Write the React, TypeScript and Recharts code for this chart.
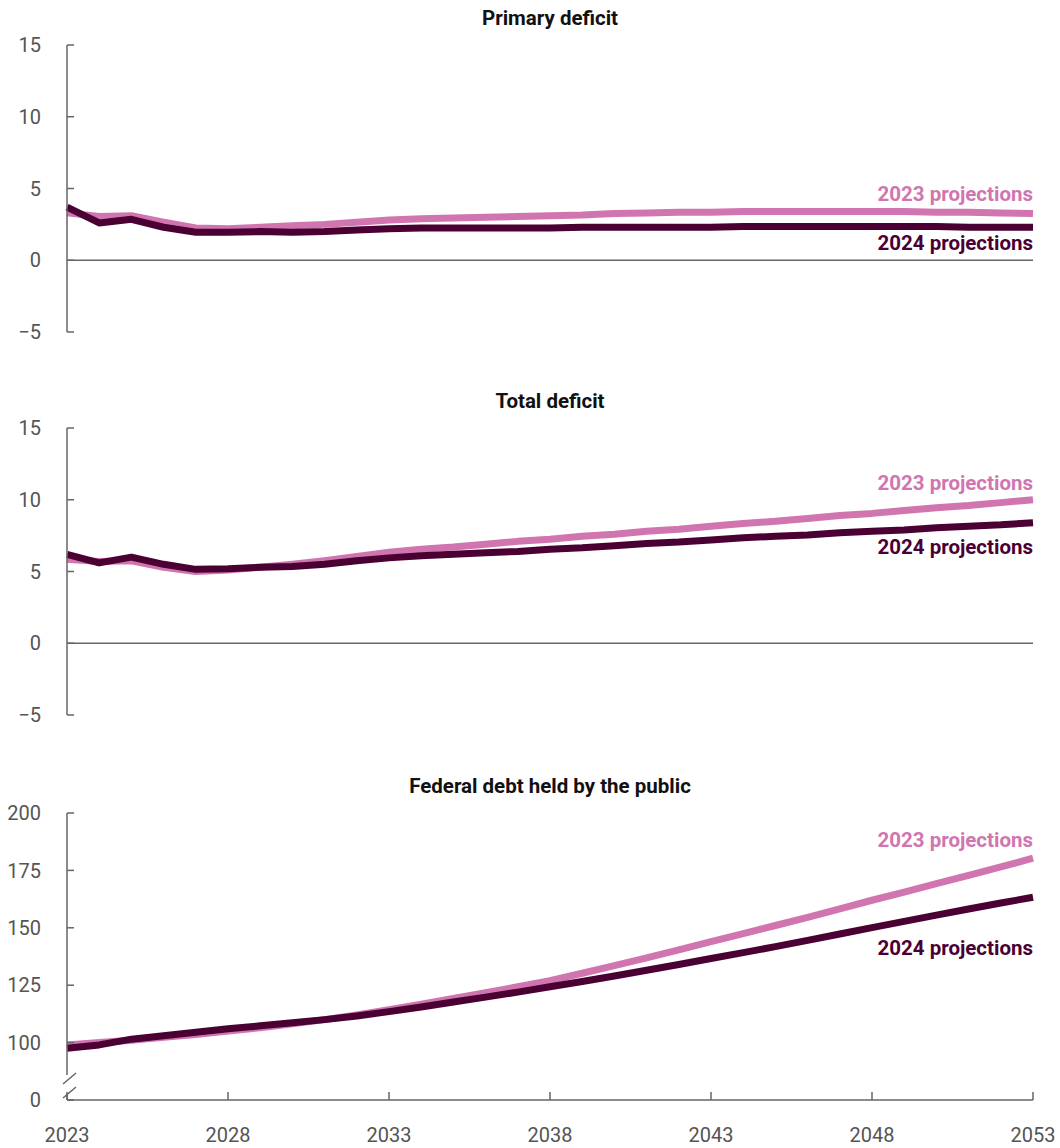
import React from "react";
import { LineChart, Line, XAxis, YAxis, ReferenceLine, LabelList } from "recharts";

const years = [
  2023, 2024, 2025, 2026, 2027, 2028, 2029, 2030, 2031, 2032, 2033,
  2034, 2035, 2036, 2037, 2038, 2039, 2040, 2041, 2042, 2043,
  2044, 2045, 2046, 2047, 2048, 2049, 2050, 2051, 2052, 2053,
];
const xTicks = [2023, 2028, 2033, 2038, 2043, 2048, 2053];

// percent of GDP
const primary2023 = [
  3.3, 3.05, 3.1, 2.65, 2.25, 2.2, 2.3, 2.4, 2.5, 2.65, 2.8,
  2.9, 2.95, 3.0, 3.05, 3.1, 3.15, 3.25, 3.3, 3.35, 3.35,
  3.4, 3.4, 3.4, 3.4, 3.4, 3.4, 3.35, 3.35, 3.3, 3.25,
];
const primary2024 = [
  3.7, 2.6, 2.85, 2.3, 1.95, 1.95, 2.0, 1.95, 2.0, 2.1, 2.2,
  2.25, 2.25, 2.25, 2.25, 2.25, 2.3, 2.3, 2.3, 2.3, 2.3,
  2.35, 2.35, 2.35, 2.35, 2.35, 2.35, 2.35, 2.3, 2.3, 2.3,
];
const total2023 = [
  5.85, 5.7, 5.75, 5.3, 5.0, 5.1, 5.3, 5.5, 5.75, 6.05, 6.35,
  6.55, 6.7, 6.9, 7.1, 7.25, 7.45, 7.6, 7.8, 7.95, 8.15,
  8.35, 8.5, 8.7, 8.9, 9.05, 9.25, 9.45, 9.6, 9.8, 10.0,
];
const total2024 = [
  6.2, 5.6, 6.0, 5.5, 5.15, 5.2, 5.3, 5.35, 5.5, 5.75, 5.95,
  6.1, 6.2, 6.3, 6.4, 6.55, 6.65, 6.8, 6.95, 7.05, 7.2,
  7.35, 7.45, 7.55, 7.7, 7.8, 7.9, 8.05, 8.15, 8.25, 8.4,
];
const debt2023 = [
  99, 100, 101, 102.3, 103.5, 105, 106.5, 108.2, 110, 112, 114.3,
  116.7, 119.2, 121.7, 124.3, 127, 130.2, 133.5, 136.9, 140.4, 144,
  147.5, 151, 154.5, 158.2, 162, 165.5, 169.2, 172.8, 176.5, 180.3,
];
const debt2024 = [
  97.5, 99, 101.5, 103, 104.5, 106, 107.3, 108.6, 110, 111.6, 113.5,
  115.5, 117.7, 119.8, 122, 124.3, 126.6, 129, 131.5, 134, 136.6,
  139.2, 141.8, 144.5, 147.3, 150.1, 152.8, 155.5, 158.2, 160.8, 163.3,
];

const PINK = "#d175b0";
const PLUM = "#4a0033";
const AXIS = "#666666";
const TICK = "#555555";
const FONT = "Roboto, 'Noto Sans', sans-serif";

const build = (a: number[], b: number[]) =>
  years.map((year, i) => ({ year, p2023: a[i], p2024: b[i] }));

const fmtSigned = (v: number) => (v < 0 ? `\u2212${Math.abs(v)}` : String(v));
const fmtDebt = (v: number) => (v === 75 ? "0" : String(v));

function endLabel(text: string, color: string, dy: number, last: number) {
  return (props: any) => {
    if (props.index !== last) return null;
    return (
      <text
        x={Number(props.x)}
        y={Number(props.y) + dy}
        textAnchor="end"
        dominantBaseline="central"
        fill={color}
        fontSize={20.5}
        fontWeight={700}
        fontFamily={FONT}
      >
        {text}
      </text>
    );
  };
}

interface PanelProps {
  top: number;
  height: number;
  title: string;
  data: { year: number; p2023: number; p2024: number }[];
  domain: [number, number];
  ticks: number[];
  fmt: (v: number) => string;
  showX?: boolean;
  offsets: [number, number];
  brokenAxis?: boolean;
}

function Panel({ top, height, title, data, domain, ticks, fmt, showX, offsets, brokenAxis }: PanelProps) {
  const last = data.length - 1;
  return (
    <div style={{ position: "absolute", left: 0, top, width: 1060, height }}>
      <div
        style={{
          position: "absolute",
          left: 67,
          width: 966,
          top: 6,
          lineHeight: "24px",
          textAlign: "center",
          fontWeight: 700,
          fontSize: 20.5,
          color: "#111",
        }}
      >
        {title}
      </div>
      <LineChart
        width={1060}
        height={height}
        data={data}
        margin={{ top: 45, right: 27, left: 0, bottom: showX ? 0 : 28 }}
      >
        <XAxis
          dataKey="year"
          type="number"
          domain={[2023, 2053]}
          ticks={xTicks}
          hide={!showX}
          height={48}
          tickSize={-8}
          tickMargin={36}
          axisLine={{ stroke: AXIS, strokeWidth: 1.5 }}
          tickLine={{ stroke: AXIS, strokeWidth: 1.5 }}
          tick={{ fill: TICK, fontSize: 20, fontFamily: FONT }}
        />
        <YAxis
          type="number"
          domain={domain}
          ticks={ticks}
          interval={0}
          width={67}
          tickSize={-7}
          tickMargin={33}
          tickFormatter={fmt}
          axisLine={{
            stroke: AXIS,
            strokeWidth: 1.5,
            strokeDasharray: brokenAxis ? "262 20 40" : undefined,
          }}
          tickLine={{ stroke: AXIS, strokeWidth: 1.5 }}
          tick={{ fill: TICK, fontSize: 20, fontFamily: FONT }}
        />
        {!showX && <ReferenceLine y={0} stroke={AXIS} strokeWidth={1.5} />}
        <Line
          type="linear"
          dataKey="p2023"
          stroke={PINK}
          strokeWidth={7}
          dot={false}
          strokeLinejoin="round"
          isAnimationActive={false}
        >
          <LabelList dataKey="p2023" content={endLabel("2023 projections", PINK, offsets[0], last)} />
        </Line>
        <Line
          type="linear"
          dataKey="p2024"
          stroke={PLUM}
          strokeWidth={7}
          dot={false}
          strokeLinejoin="round"
          isAnimationActive={false}
        >
          <LabelList dataKey="p2024" content={endLabel("2024 projections", PLUM, offsets[1], last)} />
        </Line>
      </LineChart>
    </div>
  );
}

export default function App() {
  return (
    <div
      style={{
        position: "absolute",
        left: 0,
        top: 0,
        width: 1060,
        height: 1148,
        background: "#fff",
        fontFamily: FONT,
      }}
    >
      <Panel
        top={0}
        height={360}
        title="Primary deficit"
        data={build(primary2023, primary2024)}
        domain={[-5, 15]}
        ticks={[-5, 0, 5, 10, 15]}
        fmt={fmtSigned}
        offsets={[-20, 16]}
      />
      <Panel
        top={383}
        height={360}
        title="Total deficit"
        data={build(total2023, total2024)}
        domain={[-5, 15]}
        ticks={[-5, 0, 5, 10, 15]}
        fmt={fmtSigned}
        offsets={[-17, 24]}
      />
      <Panel
        top={768}
        height={380}
        title="Federal debt held by the public"
        data={build(debt2023, debt2024)}
        domain={[75, 200]}
        ticks={[75, 100, 125, 150, 175, 200]}
        fmt={fmtDebt}
        showX
        brokenAxis
        offsets={[-18, 51]}
      />
      {/* axis break marks */}
      <svg
        width={1060}
        height={1148}
        style={{ position: "absolute", left: 0, top: 0, pointerEvents: "none" }}
      >
        <line x1={63} y1={1084} x2={76} y2={1073} stroke={AXIS} strokeWidth={1.5} />
        <line x1={63} y1={1098} x2={76} y2={1087} stroke={AXIS} strokeWidth={1.5} />
      </svg>
    </div>
  );
}
